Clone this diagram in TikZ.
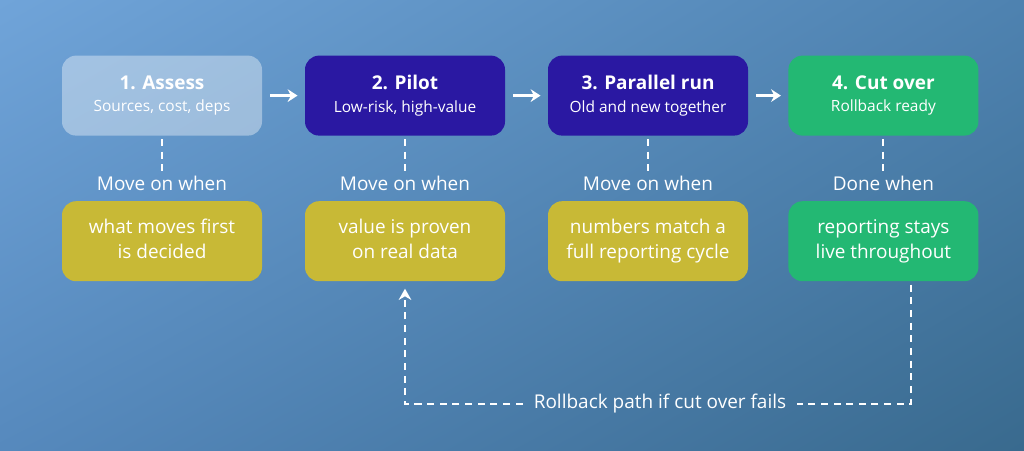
\documentclass[tikz,border=0pt]{standalone}
\usepackage{fontspec}
\setmainfont{Open Sans}
\usepackage{tikz}
\usetikzlibrary{shapes.geometric, arrows, arrows.meta, shadings}
\definecolor{BGtl}{HTML}{70A4D9}
\definecolor{BGtr}{HTML}{4E82B0}
\definecolor{BGbl}{HTML}{5689BD}
\definecolor{BGbr}{HTML}{396A8E}
\definecolor{Indigo}{HTML}{2A18A2}
\definecolor{Mint}{HTML}{23B873}
\definecolor{Olive}{HTML}{C8B936}
\newcommand{\ttlfont}{\fontsize{13.5}{16}\selectfont\bfseries}
\newcommand{\subfont}{\fontsize{11}{13}\selectfont}
\tikzstyle{stage} = [rectangle, rounded corners=10pt, minimum width=5cm, minimum height=2cm, text centered, align=center, text=white]
\tikzstyle{assess} = [stage, fill=white, fill opacity=0.38, text opacity=1]
\tikzstyle{pilot} = [stage, fill=Indigo]
\tikzstyle{cutover} = [stage, fill=Mint, minimum width=4.75cm]
\tikzstyle{crit} = [stage, fill=Olive, font=\fontsize{13.5}{17.5}\selectfont, execute at begin node={\rule{0pt}{14.5pt}}, execute at end node=\vphantom{g}]
\tikzstyle{gate} = [text=white, font=\fontsize{13.5}{16}\selectfont]
\tikzstyle{arrow} = [white, line width=2.4pt, -{Stealth[length=7pt, width=9pt]}]
\tikzstyle{tick} = [white, line width=1.4pt, dash pattern=on 5pt off 4pt]

\begin{document}
\begin{tikzpicture}[node distance=6.075cm]

\shade[upper left=BGtl, upper right=BGtr, lower left=BGbl, lower right=BGbr] (0,0) rectangle (25.6,-11.25);
\useasboundingbox (0,0) rectangle (25.6,-11.25);

\node (s1) [assess] at (4.05,-2.39) {{\ttlfont 1. Assess}\\[4pt]{\subfont Sources, cost, deps}};
\node (s2) [pilot, right of=s1] {{\ttlfont 2. Pilot}\\[4pt]{\subfont Low-risk, high-value}};
\node (s3) [pilot, right of=s2] {{\ttlfont 3. Parallel run}\\[4pt]{\subfont Old and new together}};
\node (s4) [cutover, right of=s3, xshift=-0.19cm] {{\ttlfont 4. Cut over}\\[4pt]{\subfont Rollback ready}};

\node (m1) [gate, below of=s1, node distance=2.19cm] {Move on when};
\node (m2) [gate, below of=s2, node distance=2.19cm] {Move on when};
\node (m3) [gate, below of=s3, node distance=2.19cm] {Move on when};
\node (m4) [gate, below of=s4, node distance=2.19cm] {Done when};

\node (c1) [crit, below of=s1, node distance=3.64cm] {what moves first\\is decided};
\node (c2) [crit, below of=s2, node distance=3.64cm] {value is proven\\on real data};
\node (c3) [crit, below of=s3, node distance=3.64cm] {numbers match a\\full reporting cycle};
\node (c4) [crit, fill=Mint, below of=s4, minimum width=4.75cm, node distance=3.64cm] {reporting stays\\live throughout};

\node (rb) [gate, inner sep=0.27cm] at (16.5,-10.1) {Rollback path if cut over fails};
\coordinate (k4) at (22.775,-10.1);

\draw [arrow, shorten <=0.2cm, shorten >=0.18cm] (s1) -- (s2);
\draw [arrow, shorten <=0.2cm, shorten >=0.18cm] (s2) -- (s3);
\draw [arrow, shorten <=0.2cm, shorten >=0.18cm] (s3) -- (s4);

\draw [tick, shorten <=0.08cm] (s1.south) -- (m1.north);
\draw [tick, shorten <=0.08cm] (s2.south) -- (m2.north);
\draw [tick, shorten <=0.08cm] (s3.south) -- (m3.north);
\draw [tick, shorten <=0.08cm] (s4.south) -- (m4.north);

\draw [tick, shorten <=0.08cm] (k4 |- c4.south) -- (k4) -- (rb.east);
\draw [tick, -{Stealth[length=8pt, width=9pt]}, shorten >=0.18cm] (rb.west) -| (c2.south);

\end{tikzpicture}
\end{document}
